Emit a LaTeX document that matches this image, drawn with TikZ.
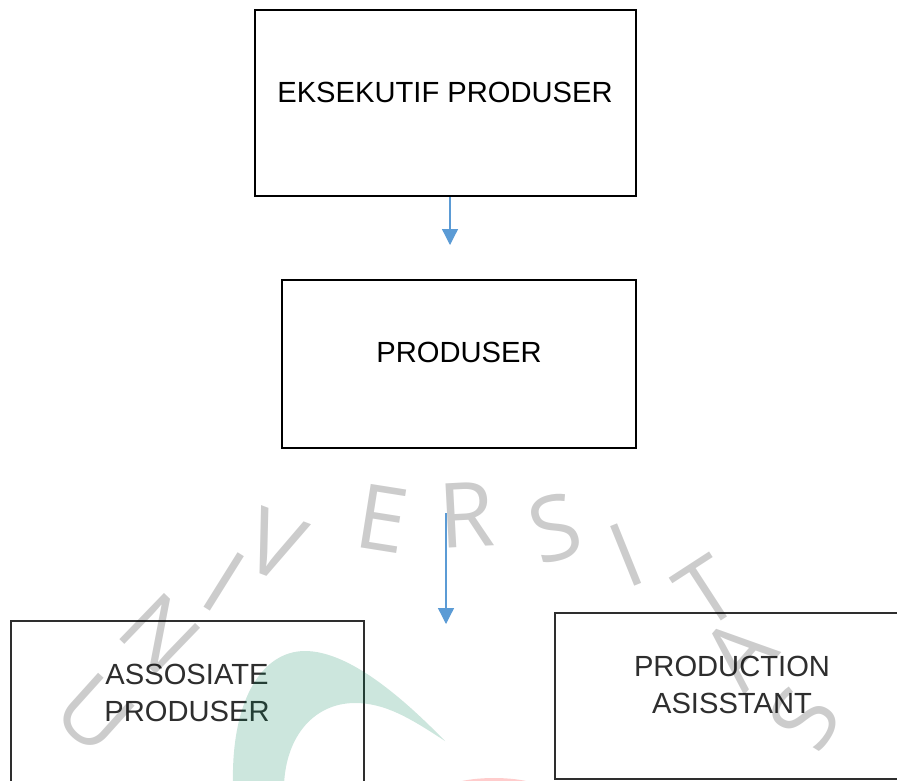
\documentclass[tikz,border=0pt]{standalone}
\usepackage{fontspec}
\setmainfont{Liberation Sans}
\newfontfamily\wmfont{Open Sans}
\usetikzlibrary{arrows.meta,positioning}
\definecolor{arrowblue}{HTML}{5B9BD5}
\definecolor{boxgrey}{HTML}{2E2E2E}
\definecolor{wmgreen}{RGB}{0,130,85}
\tikzset{
  x=1pt,y=-1pt,
  topbox/.style={draw=black,line width=2.4pt,inner sep=0pt,anchor=north west},
  lowbox/.style={draw=boxgrey,line width=2.4pt,inner sep=0pt,anchor=north west},
  boxtext/.style={font=\fontsize{29.15}{36.5}\selectfont,align=center,inner sep=0pt},
  lowtext/.style={boxtext,text=boxgrey},
  flow/.style={draw=arrowblue,line width=1.3pt,-{Triangle[width=16pt,length=16pt,fill=arrowblue]}},
  wm/.style={font=\wmfont\fontsize{90}{90}\selectfont,text=black,text opacity=0.2,inner sep=0pt}
}
\begin{document}
\begin{tikzpicture}
\useasboundingbox (0,0) rectangle (897,780);
\begin{scope}
\clip (0,0) rectangle (897,780);
\fill[white] (0,0) rectangle (897,780);
% boxes
\node[topbox,minimum width=381pt,minimum height=186pt] (eks) at (254,9) {};
\node[topbox,minimum width=354pt,minimum height=168pt] (pro) at (281,279) {};
\node[lowbox,minimum width=353pt,minimum height=200pt] (aso) at (10,619.5) {};
\node[lowbox,minimum width=380pt,minimum height=166pt] (ast) at (554,612) {};
% texts
\node[boxtext] (t1) at (445,92) {EKSEKUTIF PRODUSER};
\node[boxtext] (t2) at (459,352) {PRODUSER};
\node[lowtext] (t3) at (187,693) {ASSOSIATE\\PRODUSER};
\node[lowtext] (t4) at (732,685) {PRODUCTION\\ASISSTANT};
% connectors
\coordinate (a1) at (450,245);
\coordinate (b0) at (446,513);
\coordinate (b1) at (446,624);
\draw[flow] (eks.south -| a1) -- (a1);
\draw[flow] (b0) -- (b1);
% watermark shapes
\fill[wmgreen,opacity=0.2] (233,785) .. controls (231,700) and (262,651) .. (305,651)
  .. controls (350,651) and (405,700) .. (445,741)
  .. controls (410,718) and (385,703) .. (355,703)
  .. controls (315,703) and (286,735) .. (284,785) -- cycle;
\fill[red,opacity=0.2] (494,792) ellipse (52 and 14);
% watermark letters
\node[wm,rotate=-42] (w1) at (95,714) {U};
\node[wm,rotate=-44] (w2) at (160,634) {N};
\node[wm,rotate=-32] (w3) at (224,582) {I};
\node[wm,rotate=-21] (w4) at (275,545) {V};
\node[wm,rotate=-9] (w5) at (382,519) {E};
\node[wm,rotate=3] (w6) at (467,515) {R};
\node[wm,rotate=15] (w7) at (555,528) {S};
\node[wm,rotate=22] (w8) at (626,555) {I};
\node[wm,rotate=33] (w9) at (707,592) {T};
\node[wm,rotate=49] (w10) at (739,653) {A};
\node[wm,rotate=58] (w11) at (804,719) {S};
\end{scope}
\end{tikzpicture}
\end{document}
